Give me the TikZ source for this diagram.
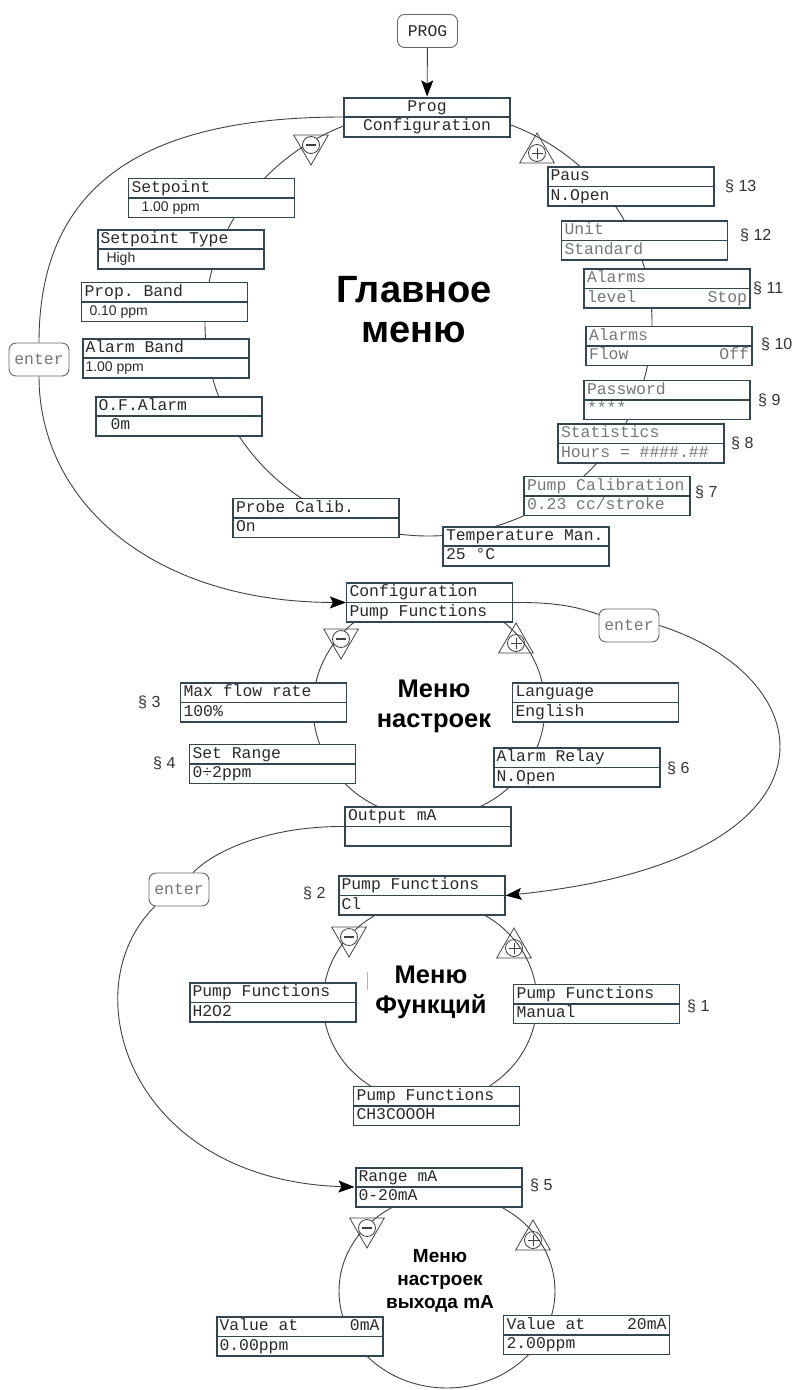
\documentclass[tikz,border=0pt]{standalone}
\usepackage{fontspec}
\setmainfont{Liberation Sans}
\setmonofont{Liberation Mono}[WordSpace={1,0,0}]
\usepackage{tikz}
\usetikzlibrary{arrows.meta,shapes.geometric}

\definecolor{boxline}{HTML}{33454F}
\definecolor{ringline}{HTML}{404040}
\definecolor{txtdark}{HTML}{2A2A2A}
\definecolor{txtdim}{HTML}{777777}

\newcommand{\mrows}[2]{\spaceskip=0pt\xspaceskip=0pt\frenchspacing\strut#1\\\strut#2}
\newcommand{\sfval}[1]{{\rmfamily\fontsize{14}{19.5}\selectfont#1}}

\tikzset{
  mbox/.style={draw=boxline, line width=1.1pt, fill=white, text width=160pt,
    inner xsep=3pt, inner ysep=0pt, align=left, text=txtdark,
    font=\fontsize{16.4}{19.5}\selectfont\ttfamily,
    path picture={\draw[boxline,line width=1.1pt] (path picture bounding box.west) -- (path picture bounding box.east);}},
  heavy/.style={line width=2pt},
  dim/.style={text=txtdim},
  btn/.style={draw=black!60, line width=0.9pt, rounded corners=7pt, fill=white,
    minimum width=60pt, minimum height=33pt, inner sep=0pt, text=txtdim,
    font=\fontsize{16.4}{19}\selectfont\ttfamily},
  ring/.style={draw=ringline, line width=0.9pt},
  link/.style={draw=ringline, line width=0.9pt},
  arr/.style={-{Stealth[length=16pt,width=12pt,inset=3pt,color=black]}},
  secno/.style={font=\fontsize{16}{19}\selectfont, text=black!80, inner sep=0pt, anchor=west},
  ttl/.style={font=\bfseries\fontsize{38}{40}\selectfont, align=center, anchor=base, inner sep=0pt},
  ttlm/.style={ttl, font=\bfseries\fontsize{25.5}{29.5}\selectfont},
  ttls/.style={ttl, font=\bfseries\fontsize{19}{23}\selectfont},
  dnsign/.style={regular polygon, regular polygon sides=3, shape border rotate=180,
    draw=black!75, line width=0.8pt, minimum size=40pt, inner sep=0pt},
  upsign/.style={regular polygon, regular polygon sides=3,
    draw=black!75, line width=0.8pt, minimum size=40pt, inner sep=0pt},
  minusc/.style={circle, draw=black!75, fill=white, line width=0.8pt, minimum size=17pt, inner sep=0pt,
    path picture={\draw[line width=2.4pt] ([xshift=-5pt]path picture bounding box.center) -- ([xshift=5pt]path picture bounding box.center);}},
  plusc/.style={circle, draw=black!75, line width=0.8pt, minimum size=17pt, inner sep=0pt,
    path picture={\draw[line width=0.9pt] ([xshift=-5.5pt]path picture bounding box.center) -- ([xshift=5.5pt]path picture bounding box.center)
      ([yshift=-5.5pt]path picture bounding box.center) -- ([yshift=5.5pt]path picture bounding box.center);}},
}

\begin{document}
\begin{tikzpicture}[x=1pt,y=-1pt]
\useasboundingbox (0,0) rectangle (793,1390);

% menu rings
\draw[ring] (428.5,323) ellipse [x radius=223.5pt, y radius=213pt];
\draw[ring] (429,707) ellipse [x radius=116pt, y radius=111pt];
\draw[ring] (430,1002) ellipse [x radius=107pt, y radius=101pt];
\draw[ring] (447,1291) ellipse [x radius=108pt, y radius=97pt];

% main menu
\node[btn, text=txtdark] (progbtn) at (427.5,31) {PROG};
\node[mbox, heavy, align=center] (prog) at (427,117) {\mrows{Prog}{Configuration}};
\node[mbox] (setp) at (211.5,198) {\mrows{Setpoint}{\hspace*{10pt}\sfval{1.00 ppm}}};
\node[mbox, heavy] (sptype) at (180.5,249) {\mrows{Setpoint Type}{\hspace*{6pt}\sfval{High}}};
\node[mbox] (pband) at (164.5,302) {\mrows{Prop. Band}{\hspace*{5pt}\sfval{0.10 ppm}}};
\node[mbox, heavy] (aband) at (165.5,358) {\mrows{Alarm Band}{\sfval{1.00 ppm}}};
\node[mbox, heavy] (ofal) at (178.5,416) {\mrows{O.F.Alarm}{\hspace*{12pt}0m}};
\node[mbox] (probe) at (316,518) {\mrows{Probe Calib.}{On}};
\node[mbox, heavy] (temp) at (526,546) {\mrows{Temperature Man.}{25 °C}};
\node[mbox, dim] (pcal) at (607,496) {\mrows{Pump Calibration}{0.23 cc/stroke}};
\node[mbox, heavy, dim] (stat) at (641,443.5) {\mrows{Statistics}{Hours = \#\#\#\#.\#\#}};
\node[mbox, dim] (pass) at (667,400) {\mrows{Password}{****}};
\node[mbox, dim] (alflow) at (669,346) {\mrows{Alarms}{Flow\hfill Off}};
\node[mbox, heavy, dim] (allev) at (667,288.5) {\mrows{Alarms}{level\hfill Stop}};
\node[mbox, dim] (unit) at (644.5,240.5) {\mrows{Unit}{Standard}};
\node[mbox, heavy] (paus) at (630.5,186.5) {\mrows{Paus}{N.Open}};

\node[secno] (s13) at (725,186) {§ 13};
\node[secno] (s12) at (740,235) {§ 12};
\node[secno] (s11) at (753,288) {§ 11};
\node[secno] (s10) at (761,344) {§ 10};
\node[secno] (s9) at (758,400) {§ 9};
\node[secno] (s8) at (731,443) {§ 8};
\node[secno] (s7) at (695,492) {§ 7};

\node[dnsign] (mnA) at (311,145) {};
\node[minusc] (mnAc) at (311,145) {};
\node[upsign] (plA) at (537,153) {};
\node[plusc] (plAc) at (537,153) {};

\node[ttl] (tmain) at (414,342) {Главное\\меню};

% settings menu
\node[mbox] (conf) at (429.5,602.5) {\mrows{Configuration}{Pump Functions}};
\node[mbox] (maxf) at (263.5,702.5) {\mrows{Max flow rate}{100\%}};
\node[mbox] (srange) at (272.5,764) {\mrows{Set Range}{0÷2ppm}};
\node[mbox, heavy] (outma) at (428,826.5) {\mrows{Output mA}{}};
\node[mbox] (lang) at (595.5,702.5) {\mrows{Language}{English}};
\node[mbox, heavy] (arelay) at (576.5,767.5) {\mrows{Alarm Relay}{N.Open}};

\node[secno] (s3) at (138,702) {§ 3};
\node[secno] (s4) at (153,763) {§ 4};
\node[secno] (s6) at (667,768) {§ 6};

\node[dnsign] (mnB) at (341,639) {};
\node[minusc] (mnBc) at (341,639) {};
\node[upsign] (plB) at (516,643) {};
\node[plusc] (plBc) at (516,643) {};

\node[ttlm] (tset) at (434,727) {Меню\\настроек};

% function menu
\node[mbox, heavy] (pfcl) at (421.5,895.5) {\mrows{Pump Functions}{Cl}};
\node[mbox, heavy] (h2o2) at (272.5,1002.5) {\mrows{Pump Functions}{H2O2}};
\node[mbox] (manual) at (596.5,1004) {\mrows{Pump Functions}{Manual}};
\node[mbox] (ch3) at (436.5,1106) {\mrows{Pump Functions}{CH3COOOH}};

\node[secno] (s2) at (303,893) {§ 2};
\node[secno] (s1) at (687,1006) {§ 1};

\node[dnsign] (mnC) at (349,937) {};
\node[minusc] (mnCc) at (349,937) {};
\node[upsign] (plC) at (514,948) {};
\node[plusc] (plCc) at (514,948) {};

\node[ttlm] (tfun) at (431,1013) {Меню\\Функций};
\draw[black!30, line width=0.8pt] (367,972) -- (367,990);

% mA output menu
\node[mbox, heavy] (rangema) at (438.5,1187) {\mrows{Range mA}{0-20mA}};
\node[mbox, heavy] (v0) at (299.5,1336.5) {\mrows{Value at\hfill 0mA}{0.00ppm}};
\node[mbox] (v20) at (586.5,1335) {\mrows{Value at\hfill 20mA}{2.00ppm}};

\node[secno] (s5) at (530,1185) {§ 5};

\node[dnsign] (mnD) at (367,1228) {};
\node[minusc] (mnDc) at (367,1228) {};
\node[upsign] (plD) at (533,1240) {};
\node[plusc] (plDc) at (533,1240) {};

\node[ttls] (tout) at (440,1308) {Меню\\настроек\\выхода mA};

% enter buttons and links
\node[btn] (enterA) at (39,359.5) {enter};
\node[btn] (enterB) at (629,625.5) {enter};
\node[btn] (enterC) at (179,889.5) {enter};

\draw[link, arr] (progbtn) -- (prog);
\draw[link] (prog.west) .. controls (150,117) and (39,180) .. (enterA.north);
\draw[link, arr] (enterA.south) .. controls (39,500) and (150,602) .. (conf.west);
\draw[link] (conf.east) .. controls (560,602) and (580,608) .. (enterB.160);
\draw[link, arr] (enterB.east) .. controls (830,680) and (850,860) .. (pfcl.east);
\draw[link] (outma.west) .. controls (270,826) and (215,850) .. (enterC.50);
\draw[link, arr] (enterC.215) .. controls (70,990) and (130,1180) .. (rangema.west);
\end{tikzpicture}
\end{document}
